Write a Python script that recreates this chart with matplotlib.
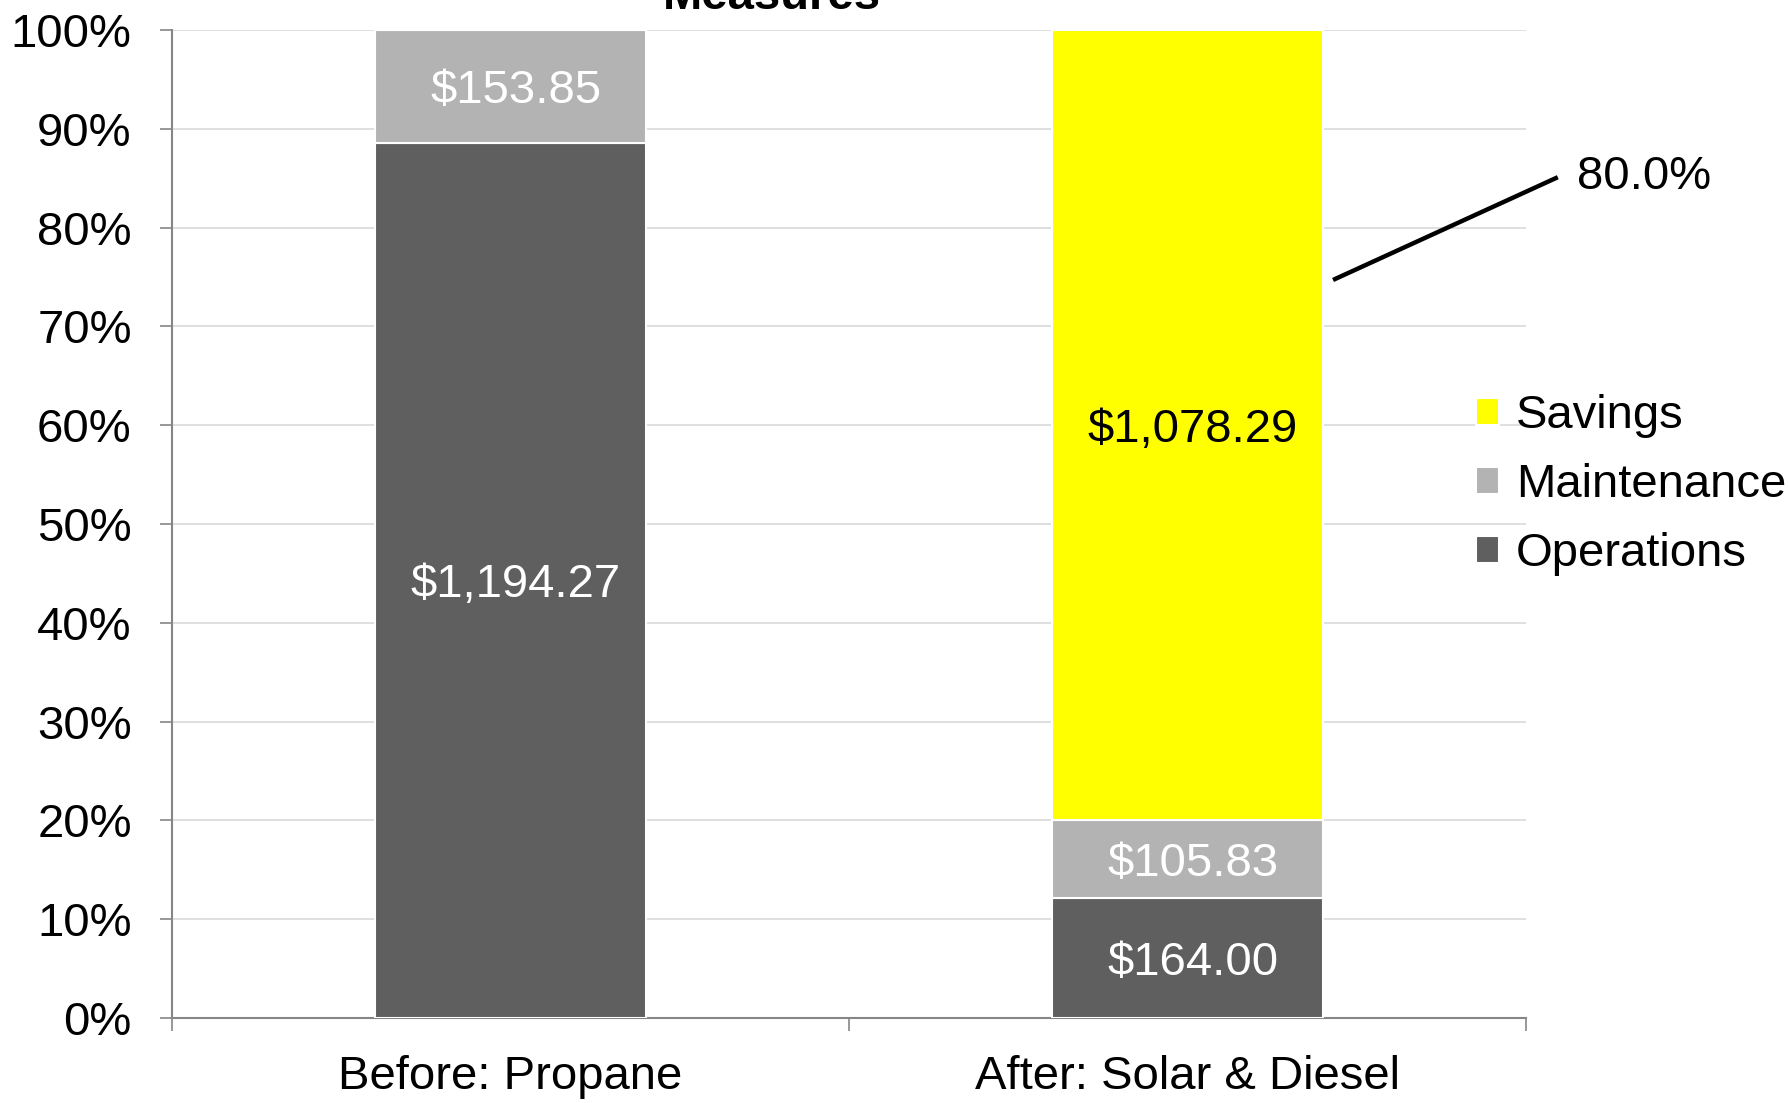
import matplotlib.pyplot as plt
import numpy as np

plt.rcParams["font.family"] = ["Liberation Sans", "DejaVu Sans"]

categories = ["Before: Propane", "After: Solar & Diesel"]
series_names = ["Operations", "Maintenance", "Savings"]
operations = [1194.27, 164.00]
maintenance = [153.85, 105.83]
savings = [0.0, 1078.29]
colors = {"Operations": "#5f5f5f", "Maintenance": "#b3b3b3", "Savings": "#ffff00"}
label_colors = {"Operations": "white", "Maintenance": "white", "Savings": "black"}

FS = 34

values = np.array([operations, maintenance, savings])
totals = values.sum(axis=0)
shares = values / totals * 100

fig = plt.figure(figsize=(17.9, 11.03), dpi=100)
ax = fig.add_axes([0.0961, 0.0771, 0.7564, 0.8957])

x = np.arange(len(categories))
bottom = np.zeros(len(categories))
handles = []
for name, vals, pct in zip(series_names, values, shares):
    bars = ax.bar(x, pct, width=0.4, bottom=bottom, color=colors[name],
                  edgecolor="white", linewidth=1.5, label=name, zorder=3)
    handles.append(bars)
    for xi, v, p, b in zip(x, vals, pct, bottom):
        if v > 0:
            ax.text(xi + 0.008, b + p / 2, f"${v:,.2f}", ha="center",
                    va="center_baseline", fontsize=FS,
                    color=label_colors[name], zorder=4)
    bottom += pct

# leader line to the savings share
sav_pct = shares[2][1]
ax.plot([1.215, 1.547], [74.7, 85.1], color="black", lw=3.2,
        clip_on=False, zorder=5, solid_capstyle="butt")
ax.text(1.576, 85.1, f"{sav_pct:.1f}%", ha="left", va="center", fontsize=FS,
        clip_on=False)

ax.set_xlim(-0.5, 1.5)
ax.set_ylim(0, 100)
ax.set_yticks(np.arange(0, 101, 10))
ax.set_yticklabels([f"{t}%" for t in range(0, 101, 10)], fontsize=FS)
ax.set_xticks(x)
ax.set_xticklabels(categories, fontsize=FS)
ax.set_xticks([-0.5, 0.5, 1.5], minor=True)
ax.tick_params(axis="x", which="major", length=0, pad=27)
ax.tick_params(axis="x", which="minor", length=9, color="#868686", width=1.2)
ax.tick_params(axis="y", length=9, color="#868686", width=1.2, pad=20)
ax.grid(axis="y", color="#d9d9d9", lw=1.2, zorder=0)
for side in ("top", "right"):
    ax.spines[side].set_visible(False)
for side in ("left", "bottom"):
    ax.spines[side].set_color("#868686")
    ax.spines[side].set_linewidth(1.5)

leg = ax.legend(handles[::-1], series_names[::-1], loc="center left",
                bbox_to_anchor=(0.963, 0.5395), frameon=False, fontsize=FS,
                handlelength=0.5, handleheight=0.5, handletextpad=0.35,
                labelspacing=0.53, borderaxespad=0, borderpad=0)

fig.text(0.431, 1 - 9 / 1103, "Measures", ha="center", va="baseline",
         fontsize=FS, fontweight="bold")

fig.savefig("out.png", dpi=100)
